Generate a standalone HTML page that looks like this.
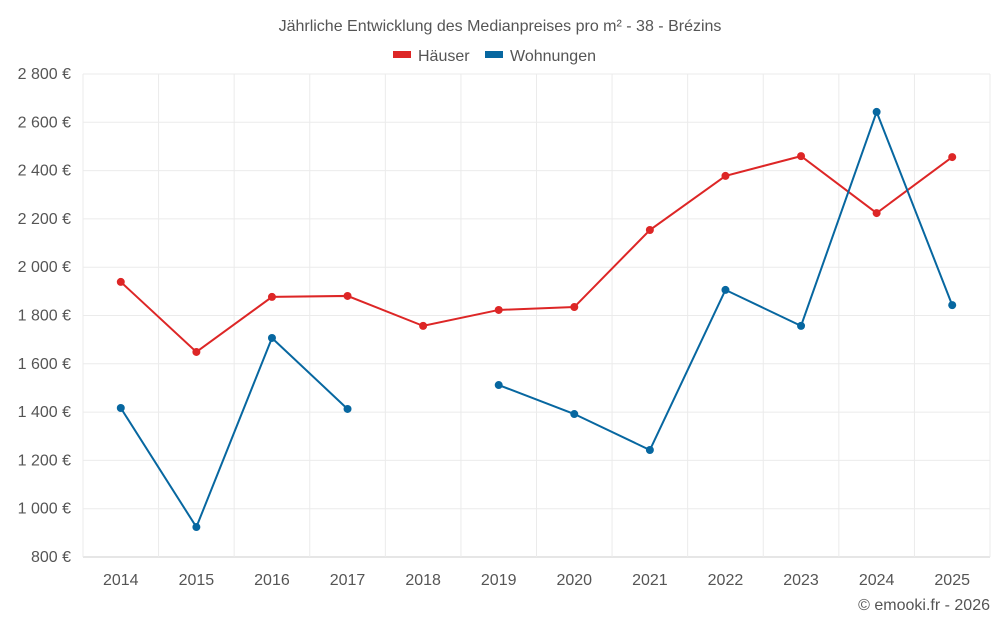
<!DOCTYPE html>
<html><head><meta charset="utf-8">
<style>
body{margin:0;background:#fff;font-family:"Roboto","Liberation Sans",sans-serif;}
svg text{font-family:"Liberation Sans",sans-serif;}
</style></head>
<body>
<svg id="chart" width="1000" height="625">
<text x="500" y="31" text-anchor="middle" font-size="16" fill="#555">Jährliche Entwicklung des Medianpreises pro m² - 38 - Brézins</text>
<g>
<g><rect x="393" y="51" width="18" height="7" fill="#dd2626"/><text x="418" y="61" font-size="16" fill="#555">Häuser</text></g>
<g><rect x="485" y="51" width="18" height="7" fill="#0767a0"/><text x="510" y="61" font-size="16" fill="#555">Wohnungen</text></g>
</g>
<g id="grid"></g><g id="axes"></g><g id="series"></g>
<text x="990" y="610" text-anchor="end" font-size="16" fill="#555">© emooki.fr - 2026</text>
</svg>
<script>
const years=[2014,2015,2016,2017,2018,2019,2020,2021,2022,2023,2024,2025];
const houses=[1939,1649,1877,1881,1757,1823,1835,2154,2378,2460,2224,2456];
const flats=[1417,924,1707,1413,null,1512,1392,1243,1906,1757,2643,1843];
const yTicks=[800,1000,1200,1400,1600,1800,2000,2200,2400,2600,2800];
const L=83,R=990,T=74,B=557,yMin=800,yMax=2800;
const step=(R-L)/years.length;
const xs=i=>L+step*(i+0.5);
const ys=v=>B-(v-yMin)/(yMax-yMin)*(B-T);
const NS="http://www.w3.org/2000/svg";
function mk(t,a,p){const e=document.createElementNS(NS,t);for(const k in a)e.setAttribute(k,a[k]);p.appendChild(e);return e;}
const g=document.getElementById('grid'),ax=document.getElementById('axes'),s=document.getElementById('series');
yTicks.forEach(v=>{
 const l=mk('line',{x1:L,x2:R,y1:ys(v),y2:ys(v),stroke:v===yMin?'#ccc':'#ebebeb'},g);
 
 
 const t=mk('text',{x:L-12,y:ys(v)+5,'text-anchor':'end','font-size':16,fill:'#555'},ax);
 t.textContent=v.toLocaleString('fr-FR').replace(/\u202f|\u00a0/g,' ')+' €';
 
 
});
for(let i=0;i<=years.length;i++){
 const l=mk('line',{x1:L+step*i,x2:L+step*i,y1:T,y2:B+(i>0&&i<years.length?0:0),stroke:'#ebebeb'},g);
 
 
}
years.forEach((y,i)=>{
 const t=mk('text',{x:xs(i),y:585,'text-anchor':'middle','font-size':16,fill:'#555'},ax);
 t.textContent=y;
 
 
});
function draw(vals,color,name){
 let d='',pen=false;
 vals.forEach((v,i)=>{if(v==null){pen=false;return;}d+=(pen?'L':'M')+xs(i)+','+ys(v);pen=true;});
 const p=mk('path',{d:d,fill:'none',stroke:color,'stroke-width':2},s);
 
 
 vals.forEach((v,i)=>{if(v==null)return;
  const c=mk('circle',{cx:xs(i),cy:ys(v),r:4,fill:color},s);
  
  
 });
}
draw(houses,'#dd2626','haeuser');
draw(flats,'#0767a0','wohnungen');
</script>
</body></html>
